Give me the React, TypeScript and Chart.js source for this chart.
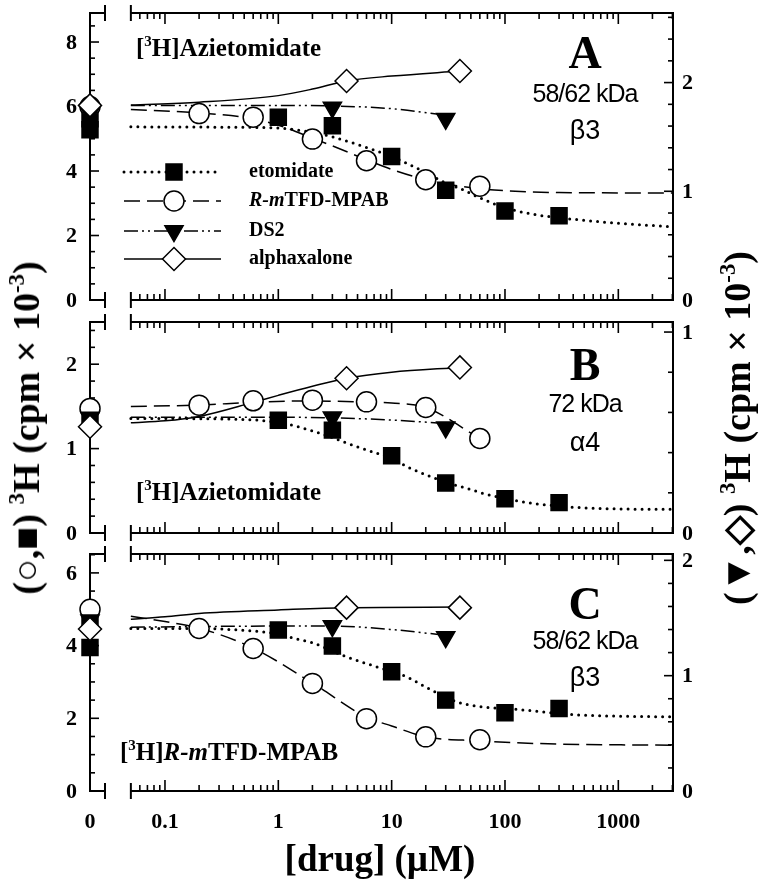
import React, { useEffect, useRef } from 'react';
import { Chart, registerables } from 'chart.js';
Chart.register(...registerables);

// ---------------- data ----------------
// drug concentrations (µM) of the measured points
const ETO_X = [1, 3, 10, 30, 100, 300];
const MPAB_X = [0.2, 0.6, 2, 6, 20, 60];
const DS2_X = [3, 30];
const ALPHA_X = [4, 40];

// Panel A  (left axis: etomidate, R-mTFD-MPAB ; right axis: DS2, alphaxalone)
const A_ETO = [5.67, 5.4, 4.45, 3.4, 2.76, 2.61];
const A_MPAB = [5.78, 5.67, 4.99, 4.32, 3.73, 3.53];
const A_DS2 = [1.77, 1.667];
const A_ALPHA = [2.015, 2.106];
const A_ZERO_ETO = [5.28, 5.62];
const A_ZERO_MPAB = [6.0];
const A_ZERO_DS2 = [1.72];
const A_ZERO_ALPHA = [1.79];
const A_ETO_FIT_X = [0.05, 0.3, 1, 2, 3, 5, 10, 20, 30, 40, 60, 100, 200, 300, 1000, 3000];
const A_ETO_FIT = [5.37, 5.36, 5.33, 5.2, 5.06, 4.82, 4.45, 3.95, 3.63, 3.46, 3.17, 2.86, 2.63, 2.55, 2.38, 2.27];
const A_MPAB_FIT_X = [0.05, 0.2, 0.6, 1, 2, 3, 6, 10, 20, 30, 60, 100, 300, 3000];
const A_MPAB_FIT = [5.91, 5.8, 5.62, 5.42, 5.02, 4.78, 4.35, 4.05, 3.73, 3.6, 3.45, 3.39, 3.33, 3.32];
const A_DS2_FIT_X = [0.05, 1, 3, 10, 30];
const A_DS2_FIT = [1.79, 1.79, 1.785, 1.76, 1.7];
const A_ALPHA_FIT_X = [0.05, 0.2, 1, 2, 4, 10, 40];
const A_ALPHA_FIT = [1.794, 1.82, 1.88, 1.94, 2.015, 2.06, 2.106];

// Panel B
const B_ETO = [1.337, 1.219, 0.915, 0.592, 0.405, 0.36];
const B_MPAB = [1.515, 1.566, 1.574, 1.554, 1.487, 1.12];
const B_DS2 = [0.576, 0.526];
const B_ALPHA = [0.77, 0.824];
const B_ZERO_ETO = [1.38];
const B_ZERO_MPAB = [1.476];
const B_ZERO_DS2 = [0.575];
const B_ZERO_ALPHA = [0.529];
const B_ETO_FIT_X = [0.05, 0.3, 1, 2, 3, 5, 10, 15, 22, 30, 46, 64, 100, 178, 300, 460, 1000, 3000];
const B_ETO_FIT = [1.357, 1.352, 1.31, 1.21, 1.13, 1.02, 0.88, 0.76, 0.67, 0.6, 0.53, 0.47, 0.41, 0.35, 0.32, 0.3, 0.285, 0.28];
const B_MPAB_FIT_X = [0.05, 0.2, 0.6, 2, 6, 10, 20, 60];
const B_MPAB_FIT = [1.5, 1.515, 1.55, 1.565, 1.55, 1.54, 1.487, 1.12];
const B_DS2_FIT_X = [0.05, 1, 3, 10, 30];
const B_DS2_FIT = [0.576, 0.576, 0.573, 0.562, 0.545];
const B_ALPHA_FIT_X = [0.05, 0.1, 0.2, 0.6, 1, 2, 4, 10, 40];
const B_ALPHA_FIT = [0.549, 0.558, 0.58, 0.65, 0.685, 0.73, 0.77, 0.8, 0.824];

// Panel C
const C_ETO = [4.43, 3.99, 3.28, 2.5, 2.15, 2.27];
const C_MPAB = [4.47, 3.92, 2.96, 1.99, 1.49, 1.41];
const C_DS2 = [1.43, 1.335];
const C_ALPHA = [1.59, 1.59];
const C_ZERO_ETO = [3.95, 4.65];
const C_ZERO_MPAB = [5.0];
const C_ZERO_DS2 = [1.48];
const C_ZERO_ALPHA = [1.405];
const C_ETO_FIT_X = [0.05, 0.2, 0.6, 1, 1.5, 2, 4, 7, 13.6, 20, 38, 60, 100, 155, 300, 460, 1000, 3000];
const C_ETO_FIT = [4.47, 4.47, 4.4, 4.32, 4.17, 4.08, 3.69, 3.44, 3.14, 2.86, 2.45, 2.32, 2.27, 2.22, 2.13, 2.09, 2.06, 2.04];
const C_MPAB_FIT_X = [0.05, 0.1, 0.2, 0.6, 2, 6, 10, 20, 60, 100, 300, 1000, 3000];
const C_MPAB_FIT = [4.81, 4.66, 4.48, 3.93, 2.97, 2.03, 1.79, 1.49, 1.38, 1.34, 1.29, 1.27, 1.26];
const C_DS2_FIT_X = [0.05, 1, 3, 10, 30];
const C_DS2_FIT = [1.42, 1.43, 1.43, 1.4, 1.35];
const C_ALPHA_FIT_X = [0.05, 0.1, 0.2, 1, 4, 40];
const C_ALPHA_FIT = [1.49, 1.51, 1.54, 1.57, 1.59, 1.595];

// axes
const X_MIN = 0.0218;
const X_MAX = 3037;
const X_START = 0.05; // start of the logarithmic segment (after the axis break)
const X_TICK_VALUES = [0.1, 1, 10, 100, 1000];
const X_TICK_LABELS = ['0.1', '1', '10', '100', '1000'];
const X_ZERO_LABEL = '0';

const A_Y_LABELS = [0, 2, 4, 6, 8];
const A_Y2_LABELS = [0, 1, 2];
const B_Y_LABELS = [0, 1, 2];
const B_Y2_LABELS = [0, 1];
const C_Y_LABELS = [0, 2, 4, 6];
const C_Y2_LABELS = [0, 1, 2];

const LEGEND_LABELS = ['etomidate', 'R-mTFD-MPAB', 'DS2', 'alphaxalone'];

// ---------------- styles ----------------
const SERIF = '"Liberation Serif", "Times New Roman", serif';
const SANS = '"Liberation Sans", Arial, sans-serif';

type SeriesKey = 'eto' | 'mpab' | 'ds2' | 'alpha';
const SERIES_STYLE: Record<SeriesKey, any> = {
  eto: { pointStyle: 'rect', radius: 11.3, rotation: 0, fill: '#000', axis: 'y', dash: [0, 7], width: 3, cap: 'round' },
  mpab: { pointStyle: 'circle', radius: 10, rotation: 0, fill: '#fff', axis: 'y', dash: [16, 7], width: 1.5, cap: 'butt' },
  ds2: { pointStyle: 'triangle', radius: 10.5, rotation: 180, fill: '#000', axis: 'y2', dash: [14, 4, 2, 4, 2, 4], width: 1.5, cap: 'butt' },
  alpha: { pointStyle: 'rectRot', radius: 11.5, rotation: 0, fill: '#fff', axis: 'y2', dash: [], width: 1.5, cap: 'butt' },
};
const ORDER: SeriesKey[] = ['eto', 'mpab', 'ds2', 'alpha'];

interface Panel {
  top: number;
  bottom: number;
  yMax: number;
  y2Max: number;
  yLabels: number[];
  yMinor: number;
  y2Labels: number[];
  y2Minor: number;
  points: Record<SeriesKey, number[]>;
  zeros: Record<SeriesKey, number[]>;
  fitX: Record<SeriesKey, number[]>;
  fitY: Record<SeriesKey, number[]>;
  legend?: boolean;
  xLabels?: boolean;
}

const PANELS: Panel[] = [
  {
    top: 10, bottom: 300, yMax: 8.9, y2Max: 2.64, yLabels: A_Y_LABELS, yMinor: 0.5, y2Labels: A_Y2_LABELS, y2Minor: 0.2,
    points: { eto: A_ETO, mpab: A_MPAB, ds2: A_DS2, alpha: A_ALPHA },
    zeros: { eto: A_ZERO_ETO, mpab: A_ZERO_MPAB, ds2: A_ZERO_DS2, alpha: A_ZERO_ALPHA },
    fitX: { eto: A_ETO_FIT_X, mpab: A_MPAB_FIT_X, ds2: A_DS2_FIT_X, alpha: A_ALPHA_FIT_X },
    fitY: { eto: A_ETO_FIT, mpab: A_MPAB_FIT, ds2: A_DS2_FIT, alpha: A_ALPHA_FIT },
    legend: true,
  },
  {
    top: 322, bottom: 533, yMax: 2.5, y2Max: 1.05, yLabels: B_Y_LABELS, yMinor: 0.2, y2Labels: B_Y2_LABELS, y2Minor: 0.2,
    points: { eto: B_ETO, mpab: B_MPAB, ds2: B_DS2, alpha: B_ALPHA },
    zeros: { eto: B_ZERO_ETO, mpab: B_ZERO_MPAB, ds2: B_ZERO_DS2, alpha: B_ZERO_ALPHA },
    fitX: { eto: B_ETO_FIT_X, mpab: B_MPAB_FIT_X, ds2: B_DS2_FIT_X, alpha: B_ALPHA_FIT_X },
    fitY: { eto: B_ETO_FIT, mpab: B_MPAB_FIT, ds2: B_DS2_FIT, alpha: B_ALPHA_FIT },
  },
  {
    top: 554, bottom: 791, yMax: 6.52, y2Max: 2.055, yLabels: C_Y_LABELS, yMinor: 0.5, y2Labels: C_Y2_LABELS, y2Minor: 0.2,
    points: { eto: C_ETO, mpab: C_MPAB, ds2: C_DS2, alpha: C_ALPHA },
    zeros: { eto: C_ZERO_ETO, mpab: C_ZERO_MPAB, ds2: C_ZERO_DS2, alpha: C_ZERO_ALPHA },
    fitX: { eto: C_ETO_FIT_X, mpab: C_MPAB_FIT_X, ds2: C_DS2_FIT_X, alpha: C_ALPHA_FIT_X },
    fitY: { eto: C_ETO_FIT, mpab: C_MPAB_FIT, ds2: C_DS2_FIT, alpha: C_ALPHA_FIT },
    xLabels: true,
  },
];

const X_OF: Record<SeriesKey, number[]> = { eto: ETO_X, mpab: MPAB_X, ds2: DS2_X, alpha: ALPHA_X };

// ---------------- helpers ----------------
function drawMarker(ctx: CanvasRenderingContext2D, key: SeriesKey, x: number, y: number) {
  const s = SERIES_STYLE[key];
  const r = s.radius;
  ctx.save();
  ctx.setLineDash([]);
  ctx.lineWidth = 1.5;
  ctx.strokeStyle = '#000';
  ctx.fillStyle = s.fill;
  ctx.beginPath();
  if (key === 'eto') {
    const h = r * Math.SQRT1_2;
    ctx.rect(x - h, y - h, 2 * h, 2 * h);
  } else if (key === 'mpab') {
    ctx.arc(x, y, r, 0, Math.PI * 2);
  } else if (key === 'ds2') {
    ctx.moveTo(x, y + r);
    ctx.lineTo(x - r * Math.sin(Math.PI / 3), y - r / 2);
    ctx.lineTo(x + r * Math.sin(Math.PI / 3), y - r / 2);
    ctx.closePath();
  } else {
    ctx.moveTo(x, y - r);
    ctx.lineTo(x + r, y);
    ctx.lineTo(x, y + r);
    ctx.lineTo(x - r, y);
    ctx.closePath();
  }
  ctx.fill();
  ctx.stroke();
  ctx.restore();
}

function makePlugin(p: Panel) {
  return {
    id: 'brokenFrame',
    beforeDatasetsDraw(chart: any) {
      const ctx: CanvasRenderingContext2D = chart.ctx;
      const { top, bottom, right } = chart.chartArea;
      const sx = chart.scales.x;
      const sy = chart.scales.y;
      const sy2 = chart.scales.y2;
      const L = chart.scales.xz.getPixelForValue(0);
      const E = L + 15;
      const S = sx.getPixelForValue(X_START);
      const R = right;
      const seg = (x1: number, y1: number, x2: number, y2: number) => {
        ctx.beginPath();
        ctx.moveTo(x1, y1);
        ctx.lineTo(x2, y2);
        ctx.stroke();
      };
      ctx.save();
      ctx.strokeStyle = '#000';
      ctx.lineWidth = 2;
      ctx.setLineDash([]);
      seg(L, top - 1, L, bottom + 1);
      seg(L, top, E, top);
      seg(L, bottom, E, bottom);
      seg(E, top - 8, E, top + 8);
      seg(E, bottom - 8, E, bottom + 8);
      seg(S, top - 8, S, top + 8);
      seg(S, bottom - 8, S, bottom + 8);
      seg(S, top, R + 1, top);
      seg(S, bottom, R + 1, bottom);
      seg(R, top, R, bottom);
      // log ticks (inward)
      ctx.lineWidth = 1.6;
      for (let d = -2; d <= 3; d++) {
        for (let m = 1; m <= 9; m++) {
          const v = m * Math.pow(10, d);
          if (v < X_START * 1.05 || v > sx.max) continue;
          const px = sx.getPixelForValue(v);
          const len = m === 1 ? 11 : 6;
          seg(px, top, px, top + len);
          seg(px, bottom, px, bottom - len);
        }
      }
      // y ticks
      const yTicks = (scale: any, max: number, minor: number, labels: number[], x0: number, dir: number) => {
        const n = Math.floor(max / minor + 1e-6);
        for (let i = 0; i <= n; i++) {
          const v = i * minor;
          const major = labels.some((l) => Math.abs(l - v) < 1e-6);
          const py = scale.getPixelForValue(v);
          seg(x0, py, x0 + dir * (major ? 9 : 5), py);
        }
      };
      yTicks(sy, p.yMax, p.yMinor, p.yLabels, L, 1);
      yTicks(sy2, p.y2Max, p.y2Minor, p.y2Labels, R, -1);
      // tick labels
      ctx.fillStyle = '#000';
      ctx.font = `bold 22px ${SERIF}`;
      ctx.textBaseline = 'middle';
      ctx.textAlign = 'right';
      p.yLabels.forEach((v) => ctx.fillText(String(v), L - 13, sy.getPixelForValue(v) + 1));
      ctx.textAlign = 'left';
      p.y2Labels.forEach((v) => ctx.fillText(String(v), R + 9, sy2.getPixelForValue(v) + 1));
      if (p.xLabels) {
        ctx.textAlign = 'center';
        ctx.fillText(X_ZERO_LABEL, L, bottom + 31);
        X_TICK_VALUES.forEach((v, i) => ctx.fillText(X_TICK_LABELS[i], sx.getPixelForValue(v), bottom + 31));
      }
      ctx.restore();
    },
    afterDatasetsDraw(chart: any) {
      if (!p.legend) return;
      const ctx: CanvasRenderingContext2D = chart.ctx;
      const rows = [172, 201, 231, 259];
      ctx.save();
      ORDER.forEach((key, i) => {
        const s = SERIES_STYLE[key];
        const y = rows[i];
        ctx.strokeStyle = '#000';
        ctx.lineWidth = s.width;
        ctx.lineCap = s.cap;
        ctx.setLineDash(s.dash);
        ctx.beginPath();
        ctx.moveTo(124, y);
        ctx.lineTo(221, y);
        ctx.stroke();
        drawMarker(ctx, key, 174, y);
        const label = LEGEND_LABELS[i];
        ctx.fillStyle = '#000';
        ctx.textBaseline = 'middle';
        ctx.textAlign = 'left';
        let tx = 249;
        if (label.startsWith('R-m')) {
          ctx.font = `italic bold 20px ${SERIF}`;
          ctx.fillText('R-m', tx, y);
          tx += ctx.measureText('R-m').width;
          ctx.font = `bold 20px ${SERIF}`;
          ctx.fillText(label.slice(3), tx, y);
        } else {
          ctx.font = `bold 20px ${SERIF}`;
          ctx.fillText(label, tx, y);
        }
      });
      ctx.restore();
    },
  };
}

function buildConfig(p: Panel): any {
  const datasets: any[] = [];
  ORDER.forEach((key, idx) => {
    const s = SERIES_STYLE[key];
    const pointBase = {
      type: 'line',
      showLine: false,
      yAxisID: s.axis,
      pointStyle: s.pointStyle,
      pointRadius: s.radius,
      pointRotation: s.rotation,
      pointBackgroundColor: s.fill,
      pointBorderColor: '#000',
      pointBorderWidth: 1.5,
      clip: false,
    };
    // fitted curve
    datasets.push({
      type: 'line',
      label: key + ' fit',
      data: p.fitX[key].map((x, i) => ({ x, y: p.fitY[key][i] })),
      xAxisID: 'x',
      yAxisID: s.axis,
      borderColor: '#000',
      borderWidth: s.width,
      borderDash: s.dash,
      borderCapStyle: s.cap,
      pointRadius: 0,
      cubicInterpolationMode: 'monotone',
      fill: false,
      order: 10,
      clip: false,
    });
    // measured points
    datasets.push({
      ...pointBase,
      label: key,
      data: p.points[key].map((y, i) => ({ x: X_OF[key][i], y })),
      xAxisID: 'x',
      order: 5 - idx,
    });
    // zero-drug points
    datasets.push({
      ...pointBase,
      label: key + ' 0',
      data: p.zeros[key].map((y) => ({ x: 0, y })),
      xAxisID: 'xz',
      order: 4 - idx,
    });
  });
  return {
    type: 'line',
    data: { datasets },
    plugins: [makePlugin(p)],
    options: {
      responsive: false,
      animation: false,
      devicePixelRatio: 1,
      events: [],
      layout: { padding: { left: 90, right: 87, top: p.top, bottom: 880 - p.bottom } },
      plugins: { legend: { display: false }, tooltip: { enabled: false }, title: { display: false } },
      scales: {
        x: { type: 'logarithmic', min: X_MIN, max: X_MAX, bounds: 'data', display: false },
        xz: { type: 'linear', min: 0, max: 1, display: false },
        y: { type: 'linear', position: 'left', min: 0, max: p.yMax, display: false },
        y2: { type: 'linear', position: 'right', min: 0, max: p.y2Max, display: false },
      },
    },
  };
}

const sup = (t: string) => (
  <span style={{ fontSize: '0.6em', position: 'relative', top: '-0.65em' }}>{t}</span>
);

export default function App() {
  const r0 = useRef<HTMLCanvasElement>(null);
  const r1 = useRef<HTMLCanvasElement>(null);
  const r2 = useRef<HTMLCanvasElement>(null);
  const refs = [r0, r1, r2];
  useEffect(() => {
    const charts = PANELS.map((p, i) => new Chart(refs[i].current as HTMLCanvasElement, buildConfig(p)));
    return () => charts.forEach((c) => c.destroy());
  }, []);

  const abs = (left: number, top: number, extra: any = {}): any => ({
    position: 'absolute',
    left,
    top,
    whiteSpace: 'nowrap',
    lineHeight: 1,
    color: '#000',
    ...extra,
  });

  return (
    <div style={{ position: 'fixed', left: 0, top: 0, width: 760, height: 880, background: '#fff', overflow: 'hidden' }}>
      {PANELS.map((_, i) => (
        <canvas key={i} ref={refs[i]} width={760} height={880} style={{ position: 'absolute', left: 0, top: 0 }} />
      ))}
      {/* radioligand labels */}
      <div style={abs(136, 48, { transform: 'translateY(-50%)', font: `bold 25px ${SERIF}` })}>
        [{sup('3')}H]Azietomidate
      </div>
      <div style={abs(136, 492, { transform: 'translateY(-50%)', font: `bold 25px ${SERIF}` })}>
        [{sup('3')}H]Azietomidate
      </div>
      <div style={abs(120, 752, { transform: 'translateY(-50%)', font: `bold 25px ${SERIF}` })}>
        [{sup('3')}H]<i>R-m</i>TFD-MPAB
      </div>
      {/* panel letters and subunit labels */}
      {[
        { l: 'A', y: 52, k: '58/62 kDa', ky: 93, g: 'β3', gy: 130 },
        { l: 'B', y: 364, k: '72 kDa', ky: 403, g: 'α4', gy: 442 },
        { l: 'C', y: 603, k: '58/62 kDa', ky: 640, g: 'β3', gy: 677 },
      ].map((a) => (
        <React.Fragment key={a.l}>
          <div style={abs(585, a.y, { transform: 'translate(-50%,-50%)', font: `bold 46px ${SERIF}` })}>{a.l}</div>
          <div style={abs(585, a.ky, { transform: 'translate(-50%,-50%)', font: `25px ${SANS}`, letterSpacing: '-1px' })}>{a.k}</div>
          <div style={abs(585, a.gy, { transform: 'translate(-50%,-50%)', font: `27px ${SANS}` })}>{a.g}</div>
        </React.Fragment>
      ))}
      {/* axis titles */}
      <div style={abs(380, 858, { transform: 'translate(-50%,-50%)', font: `bold 37px ${SERIF}` })}>[drug] (µM)</div>
      <div style={abs(26, 428, { transform: 'translate(-50%,-50%) rotate(-90deg)', font: `bold 38px ${SERIF}` })}>
        (○,■) {sup('3')}H (cpm × 10{sup('-3')})
      </div>
      <div style={abs(737, 428, { transform: 'translate(-50%,-50%) rotate(-90deg)', font: `bold 38px ${SERIF}` })}>
        (▼,◇) {sup('3')}H (cpm × 10{sup('-3')})
      </div>
    </div>
  );
}
